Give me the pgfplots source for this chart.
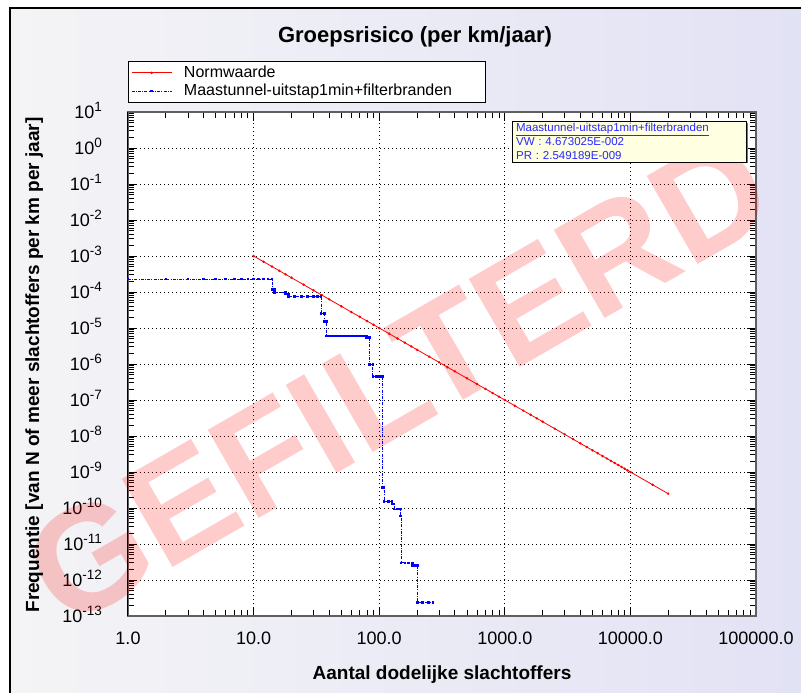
\documentclass[border=0pt]{standalone}
\usepackage{fontspec}
\setmainfont{Liberation Sans}
\usepackage{pgfplots}
\pgfplotsset{compat=1.18}
\usetikzlibrary{shadows}
\definecolor{bgL}{RGB}{244,244,246}
\definecolor{bgR}{RGB}{226,226,245}
\definecolor{infofill}{RGB}{255,255,225}
\definecolor{infotext}{RGB}{40,40,255}
\definecolor{framegray}{RGB}{95,95,95}
\newcommand\sups[1]{\raisebox{7pt}{\fontsize{13.5}{13.5}\selectfont #1}}
\begin{document}
\begin{tikzpicture}[x=1pt,y=1pt]
\useasboundingbox (0,0) rectangle (801,693);
\fill[white] (0,0) rectangle (801,693);
\shade[left color=bgL, right color=bgR] (10,0) rectangle (801,685);
\draw[black, line width=1.6pt] (10,0) -- (10,685) -- (801,685);
\begin{axis}[
  at={(128pt,77pt)}, anchor=south west,
  scale only axis, width=628pt, height=504pt,
  xmode=log, ymode=log,
  xmin=1, xmax=1e5, ymin=1e-13, ymax=10,
  clip=false,
  axis background/.style={fill=white},
  axis line style={framegray, line width=1.5pt},
  xtick={1,10,100,1000,10000,100000},
  xticklabels={1.0,10.0,100.0,1000.0,10000.0,100000.0},
  ytick={1e-13,1e-12,1e-11,1e-10,1e-9,1e-8,1e-7,1e-6,1e-5,1e-4,1e-3,1e-2,1e-1,1,10},
  yticklabels={10\sups{-13},10\sups{-12},10\sups{-11},10\sups{-10},10\sups{-9},10\sups{-8},10\sups{-7},10\sups{-6},10\sups{-5},10\sups{-4},10\sups{-3},10\sups{-2},10\sups{-1},10\sups{0},10\sups{1}},
  grid=major,
  major grid style={black, line width=0.8pt, dash pattern=on 0.8pt off 3.2pt},
  tick align=inside, major tick length=9pt, minor tick length=6pt,
  tick style={black, line width=0.8pt},
  tick label style={font=\fontsize{18}{20}\selectfont},
  xticklabel style={yshift=-12pt},
  yticklabel style={anchor=base east, inner sep=1pt, xshift=-25pt, yshift=-6.5pt},
  legend cell align=left,
  legend style={at={(0,1.101)}, anchor=north west, draw=black, fill=white,
    font=\fontsize{16}{18}\selectfont, cells={anchor=west},
    inner xsep=3pt, inner ysep=3pt, row sep=1pt, column sep=10pt},
  legend image code/.code={\draw[mark repeat=2,mark phase=2,#1] plot coordinates {(0pt,0pt) (20pt,0pt) (40pt,0pt)};},
]
\node[rotate=30, text=red, text opacity=0.2, font=\bfseries\fontsize{148}{148}\selectfont]
  at (rel axis cs:0.43,0.47) {GEFILTERD};

\addplot[red, line width=0.8pt, mark=*, mark size=0.8pt] coordinates {
(10,1e-3) (12,6.944e-4) (14,5.102e-4) (16,3.906e-4) (18,3.086e-4) (20,2.5e-4) (25,1.6e-4) (30,1.111e-4)
(35,8.163e-5) (40,6.25e-5) (50,4e-5) (60,2.778e-5) (70,2.041e-5) (80,1.5625e-5) (90,1.235e-5) (100,1e-5)
(120,6.944e-6) (140,5.102e-6) (160,3.906e-6) (180,3.086e-6) (200,2.5e-6) (250,1.6e-6) (300,1.111e-6)
(350,8.163e-7) (400,6.25e-7) (500,4e-7) (600,2.778e-7) (700,2.041e-7) (800,1.5625e-7) (900,1.235e-7)
(1000,1e-7) (1200,6.944e-8) (1400,5.102e-8) (1600,3.906e-8) (1800,3.086e-8) (2000,2.5e-8) (2500,1.6e-8)
(3000,1.111e-8) (3500,8.163e-9) (4000,6.25e-9) (4500,4.938e-9) (5000,4e-9) (5500,3.306e-9) (6000,2.778e-9)
(6500,2.367e-9) (7000,2.041e-9) (7500,1.778e-9) (8000,1.5625e-9) (8500,1.384e-9) (9000,1.235e-9)
(9500,1.108e-9) (10000,1e-9) (15000,4.444e-10) (20000,2.5e-10)
};
\addlegendentry{\makebox[296pt][l]{Normwaarde}}

\addplot[blue, line width=0.8pt, dash pattern=on 3pt off 1.2pt on 1pt off 1.2pt,
  mark=square*, mark size=0.9pt, mark options={solid}] coordinates {
(1,2.3e-4) (2,2.3e-4) (3,2.3e-4) (4,2.3e-4) (5,2.3e-4) (6,2.3e-4) (7,2.3e-4) (8,2.3e-4)
(9,2.3e-4) (10,2.3e-4) (11,2.3e-4) (12,2.3e-4) (13,2.3e-4) (14,2.3e-4)
(14,1.2e-4) (14.6,1.2e-4) (14.6,9.8e-5) (18,9.8e-5) (18,8.9e-5) (19,8.9e-5) (19,7.4e-5)
(21,7.4e-5) (24,7.4e-5) (27,7.4e-5) (30,7.4e-5) (32,7.4e-5) (34.4,7.4e-5)
(34.4,2.6e-5) (36.4,2.6e-5) (36.4,1.5e-5) (38.2,1.5e-5) (38.2,6.0e-6)
(40,6.0e-6) (42,6.0e-6) (44,6.0e-6) (46,6.0e-6) (48,6.0e-6) (50,6.0e-6) (52,6.0e-6) (54,6.0e-6)
(56,6.0e-6) (58,6.0e-6) (60,6.0e-6) (62,6.0e-6) (64,6.0e-6) (66,6.0e-6) (68,6.0e-6) (70,6.0e-6)
(72,6.0e-6) (74,6.0e-6) (76,6.0e-6) (78,6.0e-6) (79.6,6.0e-6)
(79.6,5.5e-6) (84,5.5e-6) (84,9.8e-7) (89,9.8e-7) (89,4.5e-7) (95,4.5e-7) (100,4.5e-7) (105.6,4.5e-7)
(105.6,3.8e-10) (109,3.8e-10) (109,1.5e-10) (118,1.5e-10) (126,1.5e-10) (126,1.3e-10) (131,1.3e-10)
(131,9.4e-11) (140,9.4e-11) (148,9.4e-11) (148,6e-11) (149,6e-11) (149,3e-12) (160,3e-12) (170,3e-12)
(183,3e-12) (183,2.6e-12) (190,2.6e-12) (200,2.6e-12) (200,2.4e-13) (220,2.4e-13) (245,2.4e-13) (268,2.4e-13)
};
\addlegendentry{Maastunnel-uitstap1min+filterbranden}

\draw[black, line width=1pt] (rel axis cs:0,0) -- (rel axis cs:0,1);

\node[draw=black, line width=0.8pt, fill=infofill, drop shadow={shadow xshift=1.5pt, shadow yshift=-1.5pt, fill=black!55, opacity=1},
  anchor=north west, align=left, text=infotext, text width=226pt, inner xsep=4pt, inner ysep=2pt,
  font=\fontsize{11.5}{14}\selectfont]
  at (rel axis cs:0.611,0.982)
  {\underline{Maastunnel-uitstap1min+filterbranden}\\VW : 4.673025E-002\\PR : 2.549189E-009};
\end{axis}
\node[anchor=base, font=\bfseries\fontsize{22}{22}\selectfont] at (415,650) {Groepsrisico (per km/jaar)};
\node[anchor=base, font=\bfseries\fontsize{19}{19}\selectfont] at (442,13) {Aantal dodelijke slachtoffers};
\node[rotate=90, anchor=base, font=\bfseries\fontsize{19}{19}\selectfont] at (39,328) {Frequentie [van N of meer slachtoffers per km per jaar]};
\end{tikzpicture}
\end{document}
